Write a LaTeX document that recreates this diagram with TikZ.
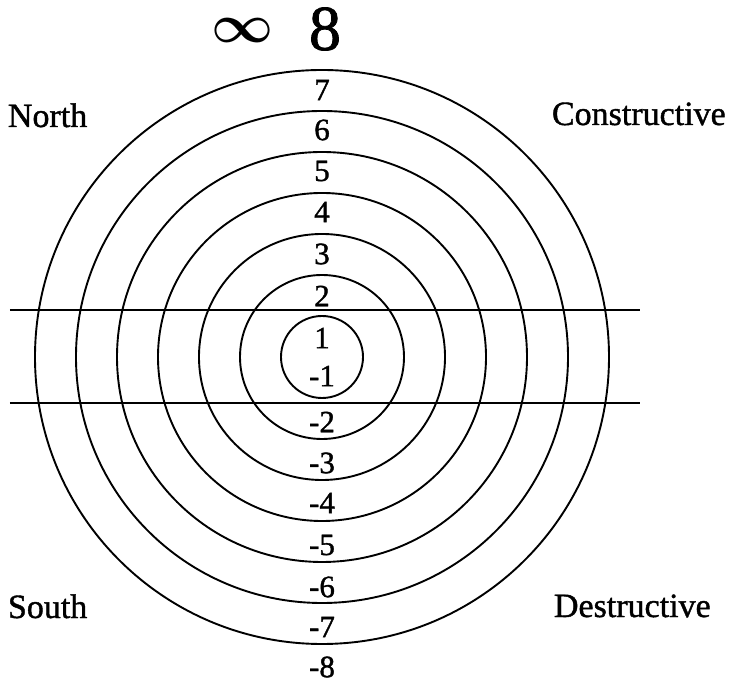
\documentclass[tikz,border=0pt]{standalone}
\usepackage{graphicx}
\usepackage{fontspec}
\setmainfont{Liberation Serif}
\newfontfamily\heavyserif[FakeBold=1.2]{Liberation Serif}
\tikzset{
  ringlabel/.style={inner sep=0pt,font=\heavyserif\fontsize{31}{31}\selectfont},
  sidelabel/.style={anchor=base west,inner sep=0pt,font=\heavyserif\fontsize{34}{34}\selectfont}
}
\begin{document}
\begin{tikzpicture}[x=1pt,y=1pt,line width=1.9pt]
  \useasboundingbox (-322,357) rectangle (413,-327);
  % rings
  \foreach \ring in {1,...,7}
    \draw (0,0) circle ({41*\ring});
  % band across the middle
  \coordinate (bandtopW) at (-312,47);
  \coordinate (bandtopE) at (318,47);
  \coordinate (bandlowW) at (-312,-46);
  \coordinate (bandlowE) at (318,-46);
  \draw (bandtopW) -- (bandtopE);
  \draw (bandlowW) -- (bandlowE);
  % ring numbers
  \foreach \level/\height in {7/267,6/227,5/186,4/145,3/103,2/61,1/19,
                              -1/-19,-2/-65,-3/-106,-4/-146,-5/-188,-6/-230,-7/-270,-8/-310}
    \node[ringlabel] (lab\level) at (0,\height) {\level};
  % top
  \node[inner sep=0pt] (infty) at (-79,326) {\scalebox{5.4}{\boldmath$\infty$}};
  \node[inner sep=0pt,font=\heavyserif\fontsize{64}{64}\selectfont] (eight) at (3,328) {8};
  % corners
  \node[sidelabel] (north) at (-315,230) {North};
  \node[sidelabel] (constr) at (229,232) {Constructive};
  \node[sidelabel] (south) at (-315,-261) {South};
  \node[sidelabel] (destr) at (231,-260) {Destructive};
\end{tikzpicture}
\end{document}
